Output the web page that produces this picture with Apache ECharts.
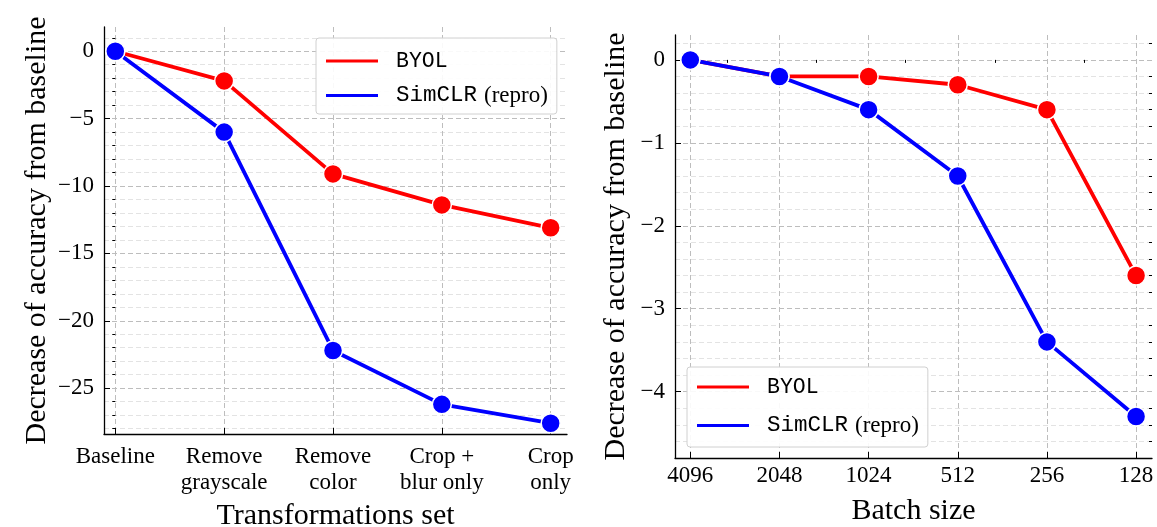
<!DOCTYPE html>
<html>
<head>
<meta charset="utf-8">
<script src="https://cdn.jsdelivr.net/npm/echarts@6/dist/echarts.min.js"></script>
<style>
  html, body { margin: 0; padding: 0; background: #fff; }
  #chart { width: 1157px; height: 527px; }
</style>
</head>
<body>
<div id="chart"></div>
<script>
// ---- data ----
const seriesNames = ['BYOL', 'SimCLR (repro)'];
const transformCategories = ['Baseline', 'Remove\ngrayscale', 'Remove\ncolor', 'Crop +\nblur only', 'Crop\nonly'];
const transformByol = [0, -2.2, -9.1, -11.4, -13.1];
const transformSimclr = [0, -6.0, -22.2, -26.2, -27.6];
const batchSizes = [4096, 2048, 1024, 512, 256, 128];
const batchByol = [0, -0.2, -0.2, -0.3, -0.6, -2.6];
const batchSimclr = [0, -0.2, -0.6, -1.4, -3.4, -4.3];
const leftYTicks = [-25, -20, -15, -10, -5, 0];
const leftYMinorTicks = [-28, -27, -26, -24, -23, -22, -21, -19, -18, -17, -16, -14, -13, -12, -11, -9, -8, -7, -6, -4, -3, -2, -1, 1];
const rightYTicks = [-4, -3, -2, -1, 0];
const rightYMinorTicks = [-4.6, -4.4, -4.2, -3.8, -3.6, -3.4, -3.2, -2.8, -2.6, -2.4, -2.2, -1.8, -1.6, -1.4, -1.2, -0.8, -0.6, -0.4, -0.2, 0.2];
const batchMinorTicks = [3072, 1536, 768, 384, 192];

// ---- styles ----
const RED = '#ff0000', BLUE = '#0000ff';
const SERIF = '"Liberation Serif", "Times New Roman", serif';
const MONO = '"Liberation Mono", "DejaVu Sans Mono", monospace';
const majorGrid = { show: true, lineStyle: { color: '#bdbdbd', width: 1, type: [5, 3] } };
const minorGrid = { show: true, lineStyle: { color: '#e3e3e3', width: 1, type: [5, 3] } };
const axisLineStyle = { show: true, onZero: false, lineStyle: { color: '#000', width: 1.3 } };
const tickFont = { fontFamily: SERIF, fontSize: 23, color: '#000' };
const titleFont = { fontFamily: SERIF, fontSize: 30, color: '#000' };
const fmtNum = v => (v < 0 ? '\u2212' + Math.abs(v) : String(v));

const tIdx = transformCategories.map((c, i) => i);

function lineSeries(name, color, xi, yi, data) {
  return {
    type: 'line', name: name, xAxisIndex: xi, yAxisIndex: yi, data: data,
    symbol: 'circle', symbolSize: 19, showAllSymbol: true,
    lineStyle: { color: color, width: 3.8 },
    itemStyle: { color: color, borderColor: '#fff', borderWidth: 1.5 },
    emphasis: { disabled: true }, animation: false, clip: false
  };
}

function legendFormatter(name) {
  if (name === 'BYOL') return '{m|BYOL}';
  return '{m2|SimCLR}{s|(repro)}';
}
const legendRich = {
  m: { fontFamily: MONO, fontSize: 21.5, lineHeight: 26, color: '#000' },
  m2: { fontFamily: MONO, fontSize: 22.5, lineHeight: 26, color: '#000' },
  s: { fontFamily: SERIF, fontSize: 23, lineHeight: 26, color: '#000', padding: [0, 0, 0, 7] }
};

const option = {
  animation: false,
  backgroundColor: '#fff',
  grid: [
    { left: 104, top: 27, width: 463, height: 407, outerBoundsMode: 'none', containLabel: false },
    { left: 675, top: 35, width: 477, height: 423, outerBoundsMode: 'none', containLabel: false }
  ],
  xAxis: [
    { // left chart categories
      type: 'value', gridIndex: 0, min: -0.104, max: 4.15,
      axisLine: axisLineStyle,
      axisTick: { show: true, inside: true, length: 6, customValues: tIdx, lineStyle: { color: '#000' } },
      axisLabel: { customValues: tIdx, margin: 10, lineHeight: 26, ...tickFont,
        formatter: v => transformCategories[Math.round(v)] },
      splitLine: majorGrid,
      name: 'Transformations set', nameLocation: 'middle', nameGap: 57, nameTextStyle: titleFont
    },
    { // right chart batch sizes (log2, reversed)
      type: 'log', logBase: 2, inverse: true, gridIndex: 1, min: 113.1, max: 4613,
      axisLine: axisLineStyle,
      axisTick: { show: true, inside: true, length: 6, customValues: batchSizes, lineStyle: { color: '#000' } },
      axisLabel: { customValues: batchSizes, margin: 6, ...tickFont, formatter: v => String(Math.round(v)) },
      splitLine: majorGrid,
      name: 'Batch size', nameLocation: 'middle', nameGap: 38, nameTextStyle: titleFont
    },
    { // right chart minor ticks
      type: 'log', logBase: 2, inverse: true, gridIndex: 1, min: 113.1, max: 4613,
      axisLine: { show: false },
      axisTick: { show: true, inside: true, length: 3, customValues: batchMinorTicks, lineStyle: { color: '#000' } },
      axisLabel: { show: false }, splitLine: { show: false }
    }
  ],
  yAxis: [
    {
      type: 'value', gridIndex: 0, min: -28.4, max: 1.8,
      axisLine: axisLineStyle,
      axisTick: { show: true, inside: true, length: 6, customValues: leftYTicks, lineStyle: { color: '#000' } },
      axisLabel: { customValues: leftYTicks, margin: 10, ...tickFont, formatter: fmtNum },
      splitLine: majorGrid,
      name: 'Decrease of accuracy from baseline', nameLocation: 'middle', nameGap: 52, nameTextStyle: titleFont
    },
    {
      type: 'value', gridIndex: 0, min: -28.4, max: 1.8,
      axisLine: { show: false },
      axisTick: { show: true, inside: true, length: 3, customValues: leftYMinorTicks, lineStyle: { color: '#000' } },
      axisLabel: { show: false },
      splitLine: minorGrid
    },
    {
      type: 'value', gridIndex: 1, min: -4.8, max: 0.3,
      axisLine: axisLineStyle,
      axisTick: { show: true, inside: true, length: 6, customValues: rightYTicks, lineStyle: { color: '#000' } },
      axisLabel: { customValues: rightYTicks, margin: 10, ...tickFont, formatter: fmtNum },
      splitLine: majorGrid,
      name: 'Decrease of accuracy from baseline', nameLocation: 'middle', nameGap: 44, nameTextStyle: titleFont
    },
    {
      type: 'value', gridIndex: 1, min: -4.8, max: 0.3,
      axisLine: { show: false },
      axisTick: { show: true, inside: true, length: 3, customValues: rightYMinorTicks, lineStyle: { color: '#000' } },
      axisLabel: { show: false },
      splitLine: minorGrid
    }
  ],
  legend: [
    {
      data: seriesNames, orient: 'vertical', left: 316, top: 38,
      padding: [12, 9, 7, 8], itemGap: 12, itemWidth: 54, itemHeight: 5, icon: 'rect',
      backgroundColor: 'rgba(255,255,255,0.9)', borderColor: '#d0d0d0', borderWidth: 1, borderRadius: 3,
      formatter: legendFormatter, textStyle: { padding: [0, 0, 0, 12], rich: legendRich },
      selectedMode: false, z: 10
    },
    {
      data: seriesNames, orient: 'vertical', left: 687, top: 367,
      padding: [9, 9, 10, 8], itemGap: 16, itemWidth: 54, itemHeight: 5, icon: 'rect',
      backgroundColor: 'rgba(255,255,255,0.9)', borderColor: '#d0d0d0', borderWidth: 1, borderRadius: 3,
      formatter: legendFormatter, textStyle: { padding: [0, 0, 0, 12], rich: legendRich },
      selectedMode: false, z: 10
    }
  ],
  series: [
    lineSeries(seriesNames[0], RED, 0, 0, transformByol.map((v, i) => [i, v])),
    lineSeries(seriesNames[1], BLUE, 0, 0, transformSimclr.map((v, i) => [i, v])),
    lineSeries(seriesNames[0], RED, 1, 2, batchByol.map((v, i) => [batchSizes[i], v])),
    lineSeries(seriesNames[1], BLUE, 1, 2, batchSimclr.map((v, i) => [batchSizes[i], v]))
  ]
};

const chart = echarts.init(document.getElementById('chart'), null, { renderer: 'canvas' });
chart.setOption(option);
</script>
</body>
</html>
